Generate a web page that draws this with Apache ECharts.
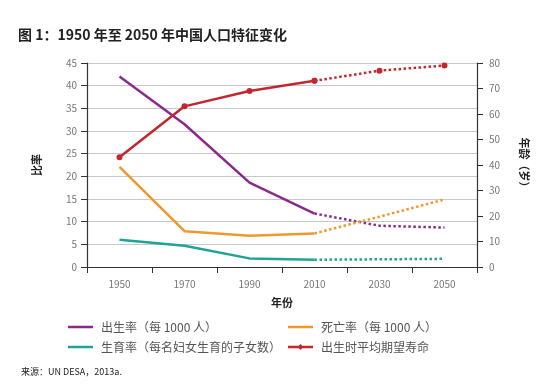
<!DOCTYPE html>
<html><head><meta charset="utf-8">
<script src="https://cdn.jsdelivr.net/npm/echarts@6/dist/echarts.min.js"></script>
<style>html,body{margin:0;padding:0;background:#fff}#c{width:556px;height:384px}</style>
</head><body><div id="c"></div>
<script>
const years = ['1950','1970','1990','2010','2030','2050'];
const birthRate = [42, 31.5, 18.6, 11.8, 9.1, 8.7];
const deathRate = [22.1, 7.9, 6.9, 7.4, 11.1, 14.9];
const fertility = [6.0, 4.7, 1.9, 1.6, 1.7, 1.8];
const lifeExp = [43, 63, 69, 73, 77, 79];
const leftTicks = [0, 45, 5];
const rightTicks = [0, 80, 10];
const names = ['出生率（每 1000 人）','死亡率（每 1000 人）','生育率（每名妇女生育的子女数）','出生时平均期望寿命'];
const colors = ['#8c2a8c','#f0972e','#1fa396','#c4262e'];
const splitIdx = 3;

function solid(arr){ return arr.map((v,i)=> i<=splitIdx ? v : null); }
function dotted(arr){ return arr.map((v,i)=> i>=splitIdx ? v : null); }

const ff = '"Noto Sans CJK SC", "Noto Sans", sans-serif';
const lineIcon = 'path://M0,0 L0.05,0 L0.05,0.05 Z M0,3.8 L26,3.8 L26,6.2 L0,6.2 Z M25.95,10 L26,10 L26,9.95 Z';
const markIcon = 'path://M0,0 L0.05,0 L0.05,0.05 Z M0,3.8 L26,3.8 L26,6.2 L0,6.2 Z M13,2 L16,5 L13,8 L10,5 Z M25.95,10 L26,10 L26,9.95 Z';

const series = [];
const datas = [birthRate, deathRate, fertility, lifeExp];
datas.forEach((d,k)=>{
  const isLife = k===3;
  series.push({
    name: names[k], type:'line', data: solid(d), yAxisIndex: isLife?1:0,
    symbol: isLife?'circle':'none', symbolSize: 6, showSymbol: isLife,
    lineStyle:{color:colors[k], width:2.5}, itemStyle:{color:colors[k]},
    z: isLife?5:3, animation:false
  });
  series.push({
    name: names[k]+'_p', type:'line', data: dotted(d), yAxisIndex: isLife?1:0,
    symbol: isLife?'circle':'none', symbolSize: 6, showSymbol: isLife,
    lineStyle:{color:colors[k], width:2.5, type:'dotted'}, itemStyle:{color:colors[k]},
    z: isLife?5:3, animation:false
  });
});

const legendText = {fontSize:12, color:'#555', padding:[0,0,0,3]};
const chart = echarts.init(document.getElementById('c'));
chart.setOption({
  animation:false,
  textStyle:{fontFamily:ff},
  title:[
    {text:'图 1：1950 年至 2050 年中国人口特征变化', left:13, top:23,
     textStyle:{fontSize:14, fontWeight:'bold', color:'#222', fontFamily:ff}},
    {text:'来源：UN DESA，2013a.', left:16, top:362,
     textStyle:{fontSize:9, fontWeight:'normal', color:'#222', fontFamily:ff}}
  ],
  legend:[
    {data:[{name:names[0], icon:lineIcon}, {name:names[2], icon:lineIcon}], orient:'vertical', left:63, top:316,
     itemWidth:25, itemHeight:10, itemGap:8, textStyle:legendText},
    {data:[{name:names[1], icon:lineIcon}, {name:names[3], icon:markIcon}], orient:'vertical', left:283, top:316,
     itemWidth:25, itemHeight:10, itemGap:8, textStyle:legendText}
  ],
  grid:{left:87, right:79, top:63, bottom:117},
  xAxis:{type:'category', data:years, boundaryGap:true,
    name:'年份', nameLocation:'middle', nameGap:30,
    nameTextStyle:{fontSize:11, fontWeight:'bold', color:'#222'},
    axisLine:{lineStyle:{color:'#333', width:1.2}},
    axisTick:{show:true, length:6, lineStyle:{color:'#333'}},
    axisLabel:{color:'#777', fontSize:10, margin:12}},
  yAxis:[
    {type:'value', min:leftTicks[0], max:leftTicks[1], interval:leftTicks[2],
     name:'比率', nameLocation:'middle', nameGap:45,
     nameTextStyle:{fontSize:11, fontWeight:'bold', color:'#222'},
     axisLine:{show:true, lineStyle:{color:'#333', width:1.2}},
     axisTick:{show:true, length:6, lineStyle:{color:'#333'}},
     axisLabel:{color:'#777', fontSize:10, margin:10},
     splitLine:{show:true, lineStyle:{color:'#c8c8c8', width:1}}},
    {type:'value', position:'right', min:rightTicks[0], max:rightTicks[1], interval:rightTicks[2],
     name:'年龄（岁）', nameLocation:'middle', nameGap:42, nameRotate:-90,
     nameTextStyle:{fontSize:11, fontWeight:'bold', color:'#222'},
     axisLine:{show:true, lineStyle:{color:'#333', width:1.2}},
     axisTick:{show:true, length:6, lineStyle:{color:'#333'}},
     axisLabel:{color:'#777', fontSize:10, margin:12},
     splitLine:{show:false}}
  ],
  series: series
});
</script></body></html>
